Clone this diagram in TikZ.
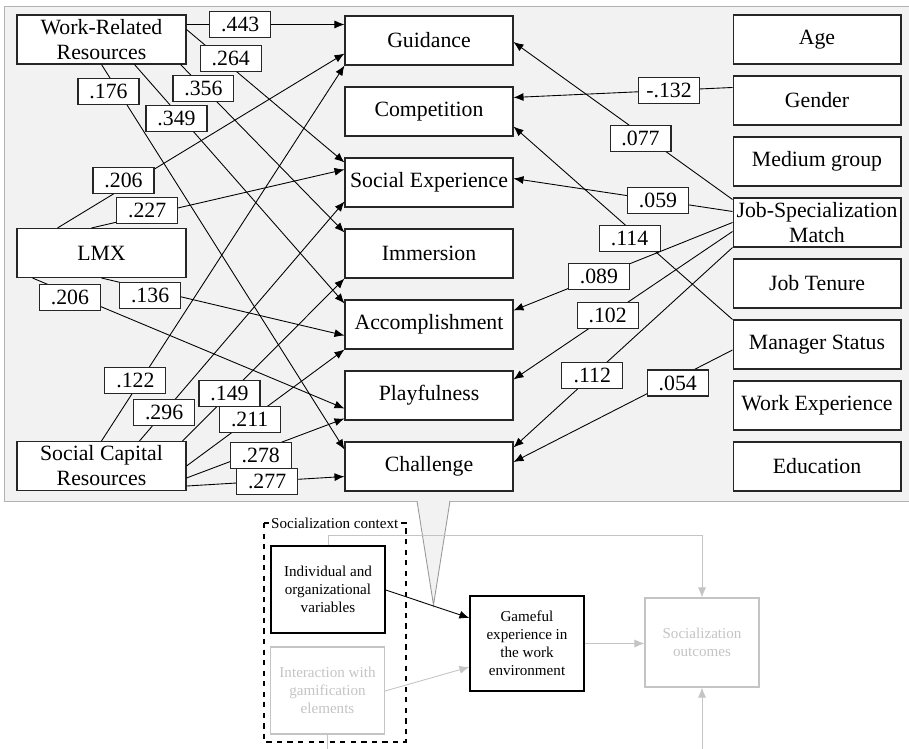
\documentclass[tikz,border=0pt]{standalone}
\usepackage{fontspec}
\setmainfont{Liberation Serif}
\usetikzlibrary{calc,arrows.meta}
\definecolor{faded}{RGB}{196,196,196}

\begin{document}
\begin{tikzpicture}[x=0.02cm, y=-0.02cm, font=\fontsize{12.4}{14.2}\selectfont,
          >={Latex[length=2mm,width=1.6mm]},
          var/.style={draw=black!85, fill=white, line width=0.6pt, minimum width=3.38cm, minimum height=0.98cm, inner sep=1pt, align=center},
          coef/.style={draw=black!85, fill=white, line width=0.6pt, minimum width=1.22cm, minimum height=0.52cm, inner sep=0pt},
          lnk/.style={->, line width=0.5pt},
          ctx/.style={draw, line width=0.9pt, minimum width=2.28cm, align=center, inner sep=1pt, font=\fontsize{8.6}{10.2}\selectfont},
          dim/.style={draw=faded, text=faded, line width=0.6pt}]
        \useasboundingbox (0,0) rectangle (909,749);
        % grey panel with the path model
        \draw[draw=black!30, fill=black!5] (4,6) rectangle (920,501);
        \fill[black!5] (417,499) -- (433.5,605) -- (450,499) -- cycle;
        \draw[black!40, line width=0.5pt] (417,501) -- (433.5,605) -- (450,501);

        % predictors
        \node[var] (wrr) at (101.5,39.5) {Work-Related\\Resources};
        \node[var] (lmx) at (101.5,253) {LMX};
        \node[var] (scr) at (101.5,466) {Social Capital\\Resources};
        % gameful experience dimensions
        \foreach \n/\t [count=\i from 0] in {guid/Guidance, comp/Competition, soc/Social Experience, imm/Immersion, acc/Accomplishment, play/Playfulness, chal/Challenge}
          \node[var, minimum width=3.36cm] (\n) at (429, 40.5+71*\i) {\t};
        % controls
        \foreach \n/\t [count=\i from 0] in {age/Age, gen/Gender, med/Medium group, jsm/{Job-Specialization\\Match}, ten/Job Tenure, mgr/Manager Status, wexp/Work Experience, edu/Education}
          \node[var, minimum width=3.36cm] (\n) at (817, 39.5+61*\i) {\t};

        % work-related resources
        \draw[lnk] ($(wrr.north east)+(0,10)$) coordinate (w1) -- node[coef, pos=0.34] {.443} (w1 -| guid.west);
        \draw[lnk] ($(wrr.north east)+(0,15)$) -- node[coef, pos=0.28, yshift=0.16cm] {.264} ($(soc.north west)+(0,5)$);
        \draw[lnk] ($(wrr.south east)+(-6,0)$) -- node[coef, pos=0.14] {.356} ($(imm.north west)+(0,4)$);
        \draw[lnk] ($(wrr.south west)+(118,0)$) -- node[coef, pos=0.2, yshift=-0.12cm] {.349} ($(acc.north west)+(0,4)$);
        \draw[lnk] (wrr.south) -- node[coef, pos=0.07, xshift=-0.2cm] {.176} ($(chal.north west)+(0,8)$);
        % LMX
        \draw[lnk] ($(lmx.north west)+(41,0)$) -- node[coef, pos=0.23, yshift=0.14cm] {.206} ($(guid.south west)+(0,-12)$);
        \draw[lnk] ($(lmx.north west)+(75,0)$) -- node[coef, pos=0.22, yshift=0.1cm] {.227} ($(soc.north west)+(0,12)$);
        \draw[lnk] ($(lmx.south west)+(16,0)$) -- node[coef, pos=0.12, yshift=-0.08cm] {.206} ($(play.south west)+(0,-12)$);
        \draw[lnk] (lmx.south) -- node[coef, pos=0.2, yshift=-0.12cm] {.136} ($(acc.west)+(0,11)$);
        % social capital resources
        \draw[lnk] (scr.north) -- node[coef, pos=0.16, xshift=-0.1cm] {.122} (guid.south west);
        \draw[lnk] ($(scr.north west)+(123,0)$) -- node[coef, pos=0.12] {.296} ($(soc.south west)+(0,-6)$);
        \draw[lnk] ($(scr.north east)+(-4,0)$) -- node[coef, pos=0.29] {.149} (imm.south west);
        \draw[lnk] (scr.east) -- node[coef, pos=0.4] {.211} (acc.south west);
        \draw[lnk] ($(scr.east)+(0,12)$) -- node[coef, pos=0.47, yshift=-0.1cm] {.278} ($(play.south west)+(0,-2)$);
        \draw[lnk] ($(scr.south east)+(0,-5)$) -- node[coef, pos=0.51] {.277} ($(chal.west)+(0,10)$);
        % controls
        \draw[lnk] ($(gen.north west)+(0,12)$) -- node[coef, pos=0.29] {-.132} ($(comp.north east)+(0,11)$);
        \draw[lnk] ($(jsm.north west)+(0,2)$) -- node[coef, pos=0.42, yshift=-0.1cm] {.077} ($(guid.east)+(0,1.5)$);
        \draw[lnk] ($(jsm.north west)+(0,14)$) -- node[coef, pos=0.34] {.059} ($(soc.east)+(0,-4)$);
        \draw[lnk] (mgr.north west) -- node[coef, pos=0.47, yshift=-0.2cm] {.114} ($(comp.south east)+(0,-10)$);
        \draw[lnk] (jsm.west) -- node[coef, pos=0.61] {.089} ($(acc.north east)+(0,11)$);
        \draw[lnk] ($(jsm.west)+(0,9)$) -- node[coef, pos=0.57] {.102} ($(play.north east)+(0,9)$);
        \draw[lnk] (jsm.south west) -- node[coef, pos=0.64] {.112} ($(chal.north east)+(0,6)$);
        \draw[lnk] ($(mgr.west)+(0,5.5)$) -- node[coef, pos=0.25, yshift=-0.1cm] {.054} ($(chal.east)+(0,-4.5)$);

        % research model below
        \draw[dashed, line width=0.8pt] (264,523) rectangle (406,742);
        \node[fill=white, inner sep=0.5pt, anchor=west, font=\fontsize{8.6}{10.2}\selectfont] (ctxlbl) at (270,523) {Socialization context};
        \node[ctx, minimum height=1.74cm] (indiv) at (328,589.5) {Individual and\\organizational\\variables};
        \node[ctx, dim, minimum height=1.74cm] (inter) at (327.5,690.5) {Interaction with\\gamification\\elements};
        \node[ctx, line width=0.7pt, minimum height=1.9cm] (game) at (527,643.5) {Gameful\\experience in\\the work\\environment};
        \node[ctx, dim, minimum height=1.78cm] (outc) at (702,642.5) {Socialization\\outcomes};
        \draw[lnk] ($(indiv.east)+(0,0.5)$) -- ($(game.west)+(0,-25.5)$);
        \draw[lnk, faded] ($(inter.east)+(0,0.5)$) -- ($(game.west)+(0,23.5)$);
        \draw[lnk, faded] (game.east) -- (game.east -| outc.west);
        \draw[lnk, faded] (indiv.north) -- ++(0,-10) -| (outc.north);
        \draw[faded, line width=0.5pt] (inter.south) -- ++(0,20);
        \draw[lnk, faded] ($(outc.south)+(0,70)$) -- (outc.south);
      \end{tikzpicture}
\end{document}
